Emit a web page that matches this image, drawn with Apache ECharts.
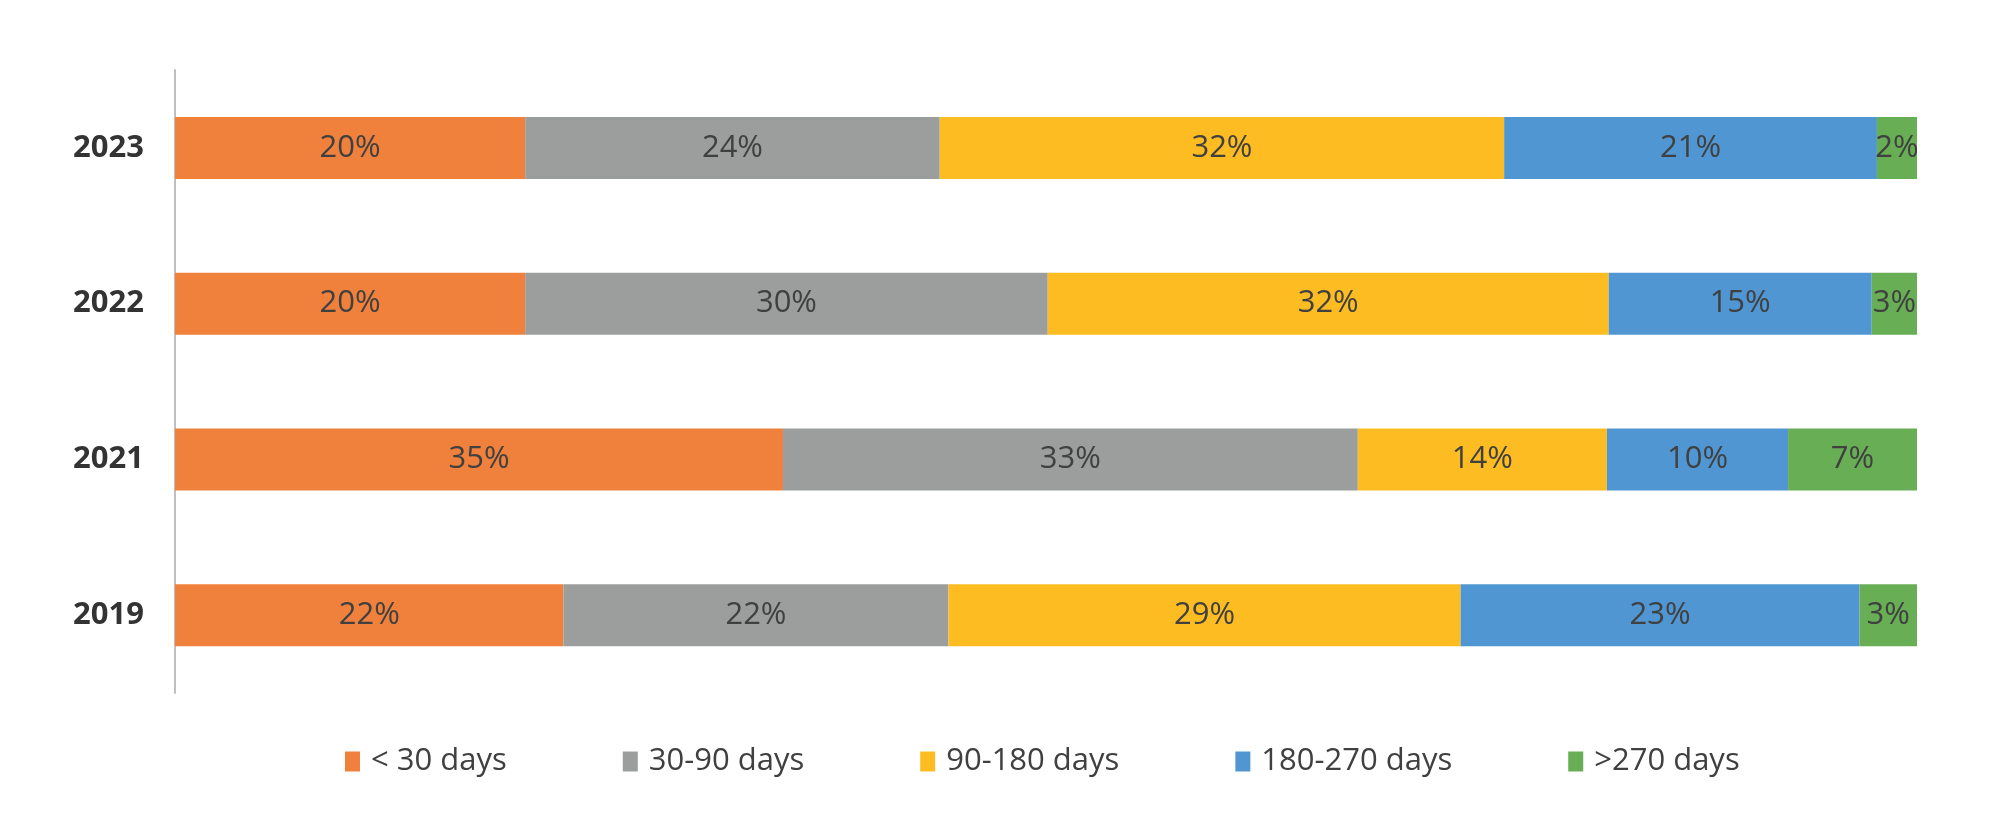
<!DOCTYPE html>
<html>
<head>
<meta charset="utf-8">
<script src="https://cdn.jsdelivr.net/npm/echarts@6/dist/echarts.min.js"></script>
<style>
  html, body { margin: 0; padding: 0; background: #ffffff; }
  #chart { width: 2000px; height: 820px; }
</style>
</head>
<body>
<div id="chart"></div>
<script>
// Categories (top to bottom)
const years = ['2023', '2022', '2021', '2019'];
// Series names
const seriesNames = ['< 30 days', '30-90 days', '90-180 days', '180-270 days', '>270 days'];
// Shares (%) per year
const lt30     = [20.1, 20.1, 34.9, 22.3];
const d30to90  = [23.8, 30.0, 33.0, 22.1];
const d90to180 = [32.4, 32.2, 14.3, 29.4];
const d180to270= [21.4, 15.1, 10.4, 22.9];
const gt270    = [2.3, 2.6, 7.4, 3.3];

const seriesValues = [lt30, d30to90, d90to180, d180to270, gt270];
const colors = ['#F0813D', '#9C9E9E', '#FDBD22', '#5096D2', '#68AE55'];

const chart = echarts.init(document.getElementById('chart'));
chart.setOption({
  animation: false,
  backgroundColor: '#ffffff',
  color: colors,
  grid: { left: 175, right: 83, top: 70, bottom: 127, containLabel: false },
  legend: {
    data: seriesNames,
    left: 340,
    top: 741,
    itemWidth: 15,
    itemHeight: 20,
    itemGap: 116,
    icon: 'rect',
    textStyle: { fontFamily: 'Open Sans', fontSize: 31, color: '#404040', padding: [0, 0, 0, 6] }
  },
  xAxis: {
    type: 'value',
    min: 0,
    max: 100,
    show: false
  },
  yAxis: {
    type: 'category',
    data: years,
    inverse: true,
    axisLine: { show: true, lineStyle: { color: '#BFBFBF', width: 2 } },
    axisTick: { show: false },
    axisLabel: {
      fontFamily: 'Open Sans',
      fontSize: 31,
      fontWeight: 'bold',
      color: '#333333',
      margin: 31
    },
    splitLine: { show: false }
  },
  series: seriesNames.map((name, i) => ({
    name: name,
    type: 'bar',
    stack: 'total',
    barWidth: 62,
    data: seriesValues[i],
    itemStyle: { color: colors[i] },
    label: {
      show: true,
      position: 'inside',
      fontFamily: 'Open Sans',
      fontSize: 31,
      color: '#404040',
      formatter: p => Math.round(p.value) + '%'
    }
  }))
});
</script>
</body>
</html>
